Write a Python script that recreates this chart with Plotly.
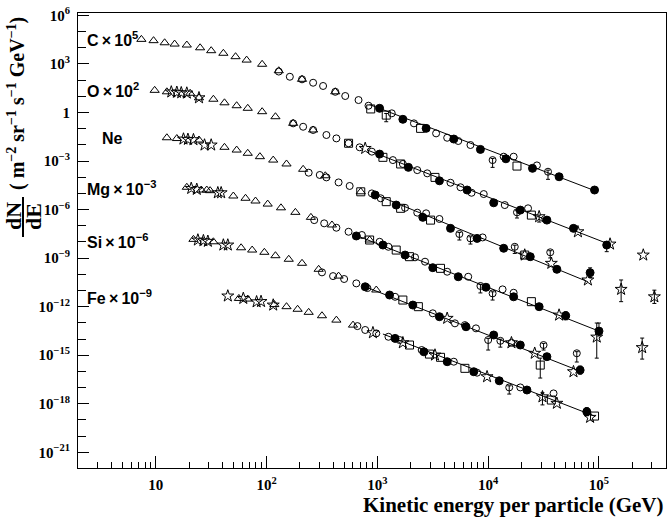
import numpy as np
import plotly.graph_objects as go

# ---------------------------------------------------------------------------
# Spectra of heavy cosmic-ray nuclei.
# Every point is (log10 E / GeV, log10 of the scaled flux dN/dE).
# Error points: (log10 E, log10 F, lower error [dex], upper error [dex]).
# Fit lines: power law given by its two end points (log10 E, log10 F).
# ---------------------------------------------------------------------------

# ----- C x 10^5 -----
C_TRI = [(0.87, 4.52), (0.98, 4.44), (1.08, 4.31), (1.17, 4.23), (1.28, 4.17),
         (1.40, 4.00), (1.50, 3.82), (1.61, 3.66), (1.72, 3.45), (1.82, 3.24),
         (1.96, 2.98), (2.11, 2.58), (2.32, 2.05), (2.62, 1.28)]
C_CIRC = [(2.11, 2.53), (2.21, 2.21), (2.32, 2.05), (2.42, 1.84), (2.51, 1.64),
          (2.62, 1.28), (2.71, 1.02), (2.83, 0.77), (2.92, 0.42), (3.13, -0.05),
          (3.33, -0.67), (3.53, -1.29), (3.63, -1.56), (3.73, -1.76), (3.84, -2.01),
          (4.14, -2.73), (4.23, -2.73), (4.44, -3.27)]
C_FILL = [(3.02, 0.26), (3.23, -0.42), (3.44, -0.98), (3.69, -1.64), (3.93, -2.28),
          (4.16, -2.86), (4.40, -3.45), (4.64, -3.97), (4.96, -4.79)]
C_SQ = [(2.94, 0.22), (3.39, -0.98), (4.26, -3.31)]
C_STAR = []
C_ERR_CIRC = [(4.04, -2.94, 0.45, 0.10), (4.54, -3.66, 0.47, 0.10)]
C_ERR_SQ = [(3.08, -0.16, 0.41, 0.10)]
C_ERR_STAR = []
C_ERR_FILL = []
C_FIT = [(2.93, 0.49), (4.97, -4.85)]

# ----- O x 10^2 -----
O_TRI = [(0.99, 1.37), (1.10, 1.28), (1.31, 1.19), (1.39, 0.91), (1.52, 0.82),
         (1.62, 0.60), (1.73, 0.42), (1.83, 0.26), (1.96, 0.05), (2.08, -0.26),
         (2.24, -0.67), (2.42, -1.08)]
O_CIRC = [(2.24, -0.67), (2.33, -0.88), (2.42, -1.08), (2.54, -1.39), (2.63, -1.60),
          (2.74, -1.90), (2.84, -2.15), (2.95, -2.42), (3.14, -2.94), (3.23, -3.18),
          (3.36, -3.56), (3.45, -3.76), (3.66, -4.34), (3.75, -4.62), (3.85, -4.96),
          (3.96, -5.04), (4.15, -5.72), (4.36, -5.92)]
O_FILL = [(3.02, -2.57), (3.28, -3.39), (3.56, -4.22), (3.81, -4.79), (4.05, -5.58),
          (4.29, -6.03), (4.53, -6.65), (4.77, -7.16)]
O_SQ = [(2.74, -1.90), (3.05, -2.77), (3.21, -3.18), (3.52, -4.01), (4.39, -6.34)]
O_STAR = [(1.14, 1.27), (1.19, 1.25), (1.23, 1.22), (1.28, 1.20), (1.39, 0.91),
          (2.89, -2.22), (4.81, -7.37), (5.10, -8.13), (5.40, -8.81)]
O_ERR_CIRC = [(4.26, -6.17, 0.35, 0.10)]
O_ERR_SQ = []
O_ERR_STAR = [(4.46, -6.44, 0.33, 0.10)]
O_ERR_FILL = [(5.07, -8.19, 0.41, 0.20)]
O_FIT = [(2.91, -2.32), (5.10, -8.16)]

# ----- Ne -----
NE_TRI = [(1.10, -1.56), (1.19, -1.61), (1.39, -1.70), (1.62, -2.15), (1.73, -2.32),
          (1.83, -2.52), (1.94, -2.73), (2.06, -2.94), (2.18, -3.18), (2.33, -3.51),
          (2.53, -3.91), (2.85, -4.90)]
NE_CIRC = [(2.38, -3.72), (2.48, -3.86), (2.54, -4.01), (2.65, -4.32), (2.75, -4.54),
           (2.95, -5.00), (3.03, -5.30), (3.25, -5.89), (3.36, -6.19), (3.44, -6.23),
           (3.56, -6.58), (3.95, -7.72)]
NE_FILL = [(2.98, -5.10), (3.17, -5.72), (3.41, -6.48), (3.66, -7.16), (3.90, -7.78),
           (4.14, -8.39), (4.38, -8.91), (4.62, -9.69)]
NE_SQ = [(2.85, -4.90), (3.08, -5.51), (3.21, -5.92), (3.48, -6.65), (4.33, -8.81)]
NE_STAR = [(1.25, -1.64), (1.29, -1.66), (1.34, -1.68), (1.44, -2.01), (1.50, -2.01),
           (4.33, -8.81), (4.57, -9.32), (4.90, -10.35)]
NE_ERR_CIRC = [(3.74, -7.51, 0.37, 0.10), (3.84, -7.78, 0.35, 0.10),
               (4.24, -8.30, 0.41, 0.10), (4.56, -8.64, 0.35, 0.10)]
NE_ERR_SQ = []
NE_ERR_STAR = [(5.20, -10.93, 0.76, 0.58), (5.50, -11.39, 0.41, 0.41)]
NE_ERR_FILL = [(4.92, -9.90, 0.30, 0.30)]
NE_FIT = [(2.95, -4.98), (4.90, -10.46)]

# ----- Mg x 10^-3 -----
MG_TRI = [(1.28, -4.62), (1.41, -4.79), (1.46, -4.79), (1.49, -4.83), (1.70, -5.16),
          (1.81, -5.30), (1.90, -5.47), (2.01, -5.66), (2.13, -5.89), (2.26, -6.17),
          (2.40, -6.48), (2.59, -6.95), (2.93, -7.88)]
MG_CIRC = [(2.43, -6.65), (2.52, -6.85), (2.63, -7.12), (2.74, -7.37), (2.86, -7.57),
           (3.02, -7.99), (3.10, -8.30), (3.34, -8.95), (3.43, -9.22), (3.63, -9.84),
           (3.82, -10.15), (4.13, -10.93), (4.23, -11.14)]
MG_FILL = [(2.81, -7.63), (3.05, -8.19), (3.25, -8.81), (3.50, -9.59), (3.73, -10.15),
           (3.98, -10.80), (4.23, -11.39), (4.46, -12.00)]
MG_SQ = [(2.93, -7.88), (3.17, -8.50), (3.29, -8.91), (3.57, -9.63), (4.39, -11.69)]
MG_STAR = [(1.32, -4.69), (1.37, -4.75), (1.56, -4.96), (1.59, -4.96), (4.64, -12.52)]
MG_ERR_CIRC = [(3.93, -10.72, 0.43, 0.10), (4.04, -11.18, 0.41, 0.10)]
MG_ERR_SQ = []
MG_ERR_STAR = [(4.98, -13.88, 1.30, 0.87), (5.39, -14.53, 0.71, 0.59)]
MG_ERR_FILL = [(4.70, -12.56, 0.25, 0.25), (5.00, -13.51, 0.30, 0.50)]
MG_FIT = [(2.80, -7.57), (5.00, -13.51)]

# ----- Si x 10^-6 -----
SI_TRI = [(1.34, -7.84), (1.52, -7.99), (1.77, -8.36), (1.87, -8.50), (1.98, -8.64),
          (2.08, -8.85), (2.20, -9.07), (2.32, -9.32), (2.47, -9.69), (2.65, -10.11),
          (2.99, -10.97)]
SI_CIRC = [(2.50, -9.88), (2.60, -10.11), (2.70, -10.29), (2.81, -10.56), (2.91, -10.85),
           (3.16, -11.39), (3.50, -12.41), (3.70, -13.03), (3.79, -13.14), (3.89, -13.34),
           (4.21, -14.23)]
SI_FILL = [(2.89, -10.77), (3.11, -11.28), (3.32, -11.90), (3.56, -12.62), (3.80, -13.24),
           (4.05, -13.75), (4.29, -14.37), (4.53, -15.09)]
SI_SQ = [(3.23, -11.59), (3.37, -12.00)]
SI_STAR = [(1.38, -7.88), (1.43, -7.92), (1.47, -7.96), (1.61, -8.19), (1.65, -8.19),
           (3.63, -12.72), (4.21, -14.23), (4.42, -14.88), (4.77, -16.02)]
SI_ERR_CIRC = [(4.00, -14.06, 0.62, 0.10), (4.11, -14.11, 0.39, 0.10),
               (4.50, -14.37, 0.31, 0.10), (4.80, -14.88, 0.54, 0.10)]
SI_ERR_SQ = [(4.47, -15.61, 0.80, 0.43)]
SI_ERR_STAR = []
SI_ERR_FILL = [(4.83, -15.92, 0.25, 0.25)]
SI_FIT = [(2.86, -10.69), (4.85, -16.04)]

# ----- Fe x 10^-9 -----
FE_TRI = [(1.75, -11.49), (1.83, -11.53), (2.07, -11.87), (2.18, -12.00), (2.28, -12.16),
          (2.38, -12.35), (2.50, -12.56), (2.63, -12.83), (2.78, -13.14)]
FE_CIRC = [(2.82, -13.20), (2.89, -13.44), (2.99, -13.65), (3.10, -13.86), (3.20, -14.06),
           (3.40, -14.68), (3.69, -15.40), (3.90, -16.08), (4.29, -16.99), (4.59, -17.36)]
FE_FILL = [(3.16, -13.96), (3.42, -14.79), (3.63, -15.40), (3.87, -16.02), (4.10, -16.58),
           (4.35, -17.15)]
FE_SQ = [(3.29, -14.37), (3.47, -14.93), (3.57, -15.13), (3.79, -15.81), (4.57, -17.77),
         (4.96, -18.76)]
FE_STAR = [(1.65, -11.34), (1.79, -11.49), (1.91, -11.70), (1.95, -11.68), (2.06, -11.90),
           (2.96, -13.61), (3.23, -14.23), (3.52, -14.99), (3.99, -16.33), (4.62, -17.97),
           (4.92, -18.84)]
FE_ERR_CIRC = [(4.19, -16.99, 0.41, 0.10)]
FE_ERR_SQ = []
FE_ERR_STAR = [(4.49, -17.57, 0.50, 0.25)]
FE_ERR_FILL = [(4.89, -18.49, 0.25, 0.25)]
FE_FIT = [(3.05, -13.69), (4.96, -18.76)]

# Element labels
LABELS = ["C\u2009×\u200910<sup>5</sup>", "O\u2009×\u200910<sup>2</sup>", "Ne",
          "Mg\u2009×\u200910<sup>-3</sup>", "Si\u2009×\u200910<sup>-6</sup>",
          "Fe\u2009×\u200910<sup>-9</sup>"]

# Axis ticks
X_TICKS = [1, 2, 3, 4, 5]
X_TICKTEXT = ["10", "10<sup>2</sup>", "10<sup>3</sup>", "10<sup>4</sup>", "10<sup>5</sup>"]
Y_TICKS = [6, 3, 0, -3, -6, -9, -12, -15, -18, -21]
Y_TICKTEXT = ["10<sup>6</sup>", "10<sup>3</sup>", "1", "10<sup>\u22123</sup>",
              "10<sup>\u22126</sup>", "10<sup>\u22129</sup>", "10<sup>\u221212</sup>",
              "10<sup>\u221215</sup>", "10<sup>\u221218</sup>", "10<sup>\u221221</sup>"]

# ---------------------------------------------------------------------------
W, H = 667, 517
ML, MR, MT, MB = 78, 1, 13, 49
PW, PH = W - ML - MR, H - MT - MB


def px(x):
    return (x - ML) / PW


def py(y):
    return (H - MB - y) / PH


STYLES = {
    "tri": dict(symbol="triangle-up-open", size=8),
    "circ": dict(symbol="circle-open", size=7),
    "fill": dict(symbol="circle", size=8),
    "sq": dict(symbol="square-open", size=8),
    "star": dict(symbol="star-open", size=9),
}

ELEMENTS = [
    dict(tri=C_TRI, circ=C_CIRC, fill=C_FILL, sq=C_SQ, star=C_STAR,
         err=dict(circ=C_ERR_CIRC, sq=C_ERR_SQ, star=C_ERR_STAR, fill=C_ERR_FILL), fit=C_FIT),
    dict(tri=O_TRI, circ=O_CIRC, fill=O_FILL, sq=O_SQ, star=O_STAR,
         err=dict(circ=O_ERR_CIRC, sq=O_ERR_SQ, star=O_ERR_STAR, fill=O_ERR_FILL), fit=O_FIT),
    dict(tri=NE_TRI, circ=NE_CIRC, fill=NE_FILL, sq=NE_SQ, star=NE_STAR,
         err=dict(circ=NE_ERR_CIRC, sq=NE_ERR_SQ, star=NE_ERR_STAR, fill=NE_ERR_FILL), fit=NE_FIT),
    dict(tri=MG_TRI, circ=MG_CIRC, fill=MG_FILL, sq=MG_SQ, star=MG_STAR,
         err=dict(circ=MG_ERR_CIRC, sq=MG_ERR_SQ, star=MG_ERR_STAR, fill=MG_ERR_FILL), fit=MG_FIT),
    dict(tri=SI_TRI, circ=SI_CIRC, fill=SI_FILL, sq=SI_SQ, star=SI_STAR,
         err=dict(circ=SI_ERR_CIRC, sq=SI_ERR_SQ, star=SI_ERR_STAR, fill=SI_ERR_FILL), fit=SI_FIT),
    dict(tri=FE_TRI, circ=FE_CIRC, fill=FE_FILL, sq=FE_SQ, star=FE_STAR,
         err=dict(circ=FE_ERR_CIRC, sq=FE_ERR_SQ, star=FE_ERR_STAR, fill=FE_ERR_FILL), fit=FE_FIT),
]

fig = go.Figure()

# power-law fits underneath the markers
for el in ELEMENTS:
    lx, ly = np.array(el["fit"]).T
    fig.add_trace(go.Scatter(x=10 ** lx, y=10 ** ly, mode="lines",
                             line=dict(color="black", width=1), hoverinfo="skip"))

# plain markers
for kind, st in STYLES.items():
    pts = [p for el in ELEMENTS for p in el[kind]]
    if not pts:
        continue
    lx, ly = np.array(pts).T
    fig.add_trace(go.Scatter(
        x=10 ** lx, y=10 ** ly, mode="markers",
        marker=dict(symbol=st["symbol"], size=st["size"], color="black",
                    line=dict(color="black", width=1))))

# markers with vertical error bars (errors given in decades)
for kind in ["circ", "sq", "star", "fill"]:
    pts = [p for el in ELEMENTS for p in el["err"][kind]]
    if not pts:
        continue
    lx, ly, lo, hi = np.array(pts).T
    y = 10 ** ly
    st = STYLES[kind]
    fig.add_trace(go.Scatter(
        x=10 ** lx, y=y, mode="markers",
        marker=dict(symbol=st["symbol"], size=st["size"], color="black",
                    line=dict(color="black", width=1)),
        error_y=dict(type="data", symmetric=False,
                     array=y * (10 ** hi - 1), arrayminus=y * (1 - 10 ** (-lo)),
                     color="black", thickness=1, width=2)))

# element labels
label_y = [39, 90, 138, 188, 241, 297]
label_x = [85, 85, 100, 85, 85, 85]
for txt, lx_, ly_ in zip(LABELS, label_x, label_y):
    fig.add_annotation(x=px(lx_), y=py(ly_), xref="paper", yref="paper",
                       text="<b>" + txt.replace("-", "\u2212") + "</b>",
                       showarrow=False, xanchor="left", yanchor="middle",
                       font=dict(family="Liberation Sans", size=16, color="black"))

# y-axis title: dN/dE fraction and units
serif = "Liberation Serif"
fig.add_annotation(x=px(17), y=py(104), xref="paper", yref="paper", textangle=-90,
                   text="<b>( m<sup>\u22122</sup> sr<sup>\u22121</sup> s<sup>\u22121</sup> "
                        "GeV<sup>\u22121</sup>)</b>",
                   showarrow=False, xanchor="center", yanchor="middle",
                   font=dict(family=serif, size=20, color="black"))
fig.add_annotation(x=px(13), y=py(216), xref="paper", yref="paper", textangle=-90,
                   text="<b>dN</b>", showarrow=False, xanchor="center", yanchor="middle",
                   font=dict(family=serif, size=22, color="black"))
fig.add_annotation(x=px(34), y=py(217), xref="paper", yref="paper", textangle=-90,
                   text="<b>dE</b>", showarrow=False, xanchor="center", yanchor="middle",
                   font=dict(family=serif, size=22, color="black"))
fig.add_shape(type="line", xref="paper", yref="paper",
              x0=px(23), x1=px(23), y0=py(197), y1=py(237),
              line=dict(color="black", width=2))

# x-axis title
fig.add_annotation(x=px(666), y=py(519), xref="paper", yref="paper",
                   text="<b>Kinetic energy per particle (GeV)</b>",
                   showarrow=False, xanchor="right", yanchor="bottom",
                   font=dict(family=serif, size=21, color="black"))

x_minor = [m * 10 ** d for d in range(0, 6) for m in range(2, 10)]
y_minor = [10.0 ** k for k in range(-21, 7) if k % 3 != 0]

tickfont = dict(family=serif, size=15, color="black", weight="bold")
fig.update_xaxes(type="log", range=[0.298, 5.605],
                 tickvals=[10 ** v for v in X_TICKS], ticktext=X_TICKTEXT,
                 ticks="inside", ticklen=12, tickwidth=1, tickcolor="black",
                 minor=dict(tickvals=x_minor, ticks="inside", ticklen=6,
                            tickwidth=1, tickcolor="black", showgrid=False),
                 showline=True, linecolor="black", linewidth=1, mirror=True,
                 showgrid=False, zeroline=False, tickfont=tickfont,
                 ticklabelstandoff=3)
fig.update_yaxes(type="log", range=[-21.97, 6.15],
                 tickvals=[10.0 ** v for v in Y_TICKS], ticktext=Y_TICKTEXT,
                 ticks="inside", ticklen=11, tickwidth=1, tickcolor="black",
                 minor=dict(tickvals=y_minor, ticks="inside", ticklen=8,
                            tickwidth=1, tickcolor="black", showgrid=False),
                 showline=True, linecolor="black", linewidth=1, mirror=True,
                 showgrid=False, zeroline=False, tickfont=tickfont,
                 ticklabelstandoff=4)

fig.update_layout(width=W, height=H, margin=dict(l=ML, r=MR, t=MT, b=MB),
                  paper_bgcolor="white", plot_bgcolor="white", showlegend=False)

fig.write_html("out.html")
